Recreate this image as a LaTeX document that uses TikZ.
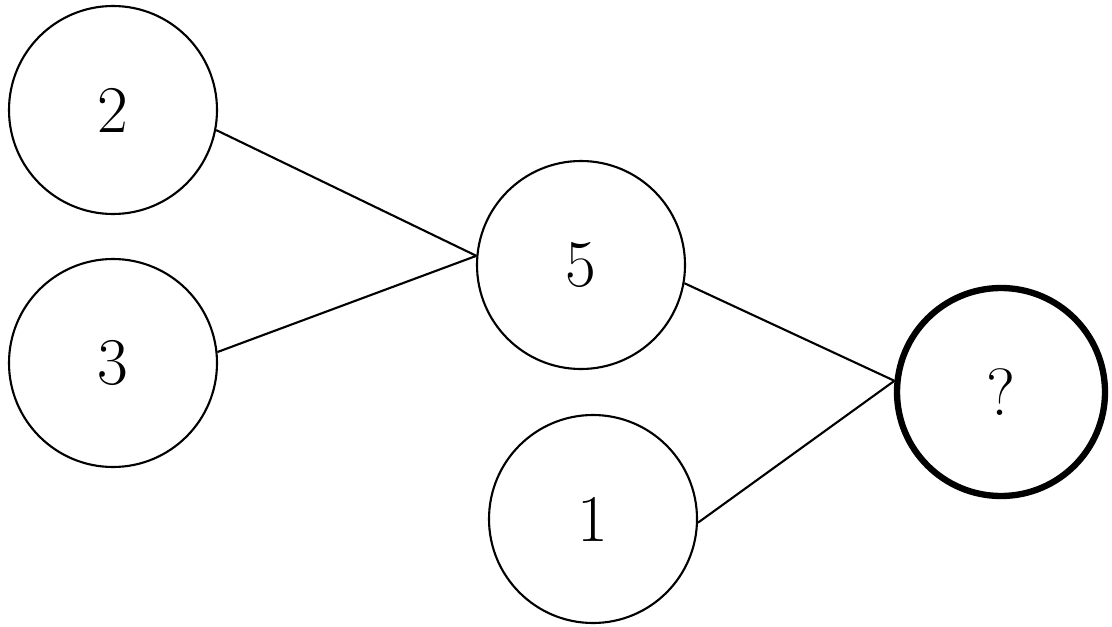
\documentclass[tikz,border=0pt]{standalone}
\usepackage{tikz}

\begin{document}
\begin{tikzpicture}[
  num/.style={draw, circle, line width=0.6pt, inner sep=0pt,
    minimum size=2.08cm, font=\fontsize{19}{23}\selectfont},
  goal/.style={num, line width=1.8pt},
  link/.style={line width=0.6pt}
]
\useasboundingbox (0,0) rectangle (11.12,6.26);
\node[num] (two) at (1.13,5.16) {2};
\node[num] (three) at (1.13,2.63) {3};
\node[num] (five) at (5.81,3.61) {5};
\node[num] (one) at (5.93,1.07) {1};
\node[goal] (ask) at (10.01,2.34) {?};

\draw[link] (two.349) -- (five.175);
\draw[link] (three.6) -- (five.175);
\draw[link] (five.350) -- (ask.174);
\draw[link] (one.358) -- (ask.174);
\end{tikzpicture}
\end{document}
